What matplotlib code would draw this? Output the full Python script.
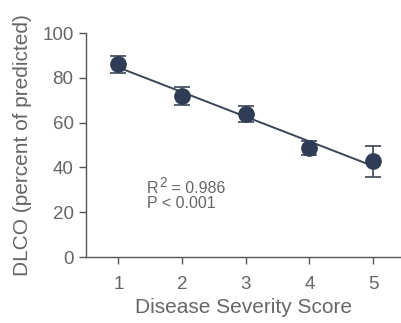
import numpy as np
import matplotlib
matplotlib.use("Agg")
import matplotlib.pyplot as plt
from matplotlib.transforms import offset_copy

plt.rcParams['font.family'] = ['Liberation Sans', 'DejaVu Sans']

severity = [1, 2, 3, 4, 5]
dlco = [86.1, 71.9, 63.7, 48.7, 42.7]
dlco_err = [3.8, 3.9, 3.6, 3.2, 6.9]
xticks = [1, 2, 3, 4, 5]
yticks = [0, 20, 40, 60, 80, 100]

text_c = '#666666'
axis_c = '#555555'
mark_c = '#2e3d55'

fig = plt.figure(figsize=(4.01, 3.23), dpi=100)
ax = fig.add_axes([86/401, 66/323, 315/401, 224/323])

slope, intercept = np.polyfit(severity, dlco, 1)
xs = np.array([severity[0], severity[-1]])
ax.plot(xs, slope*xs + intercept, color='#3a4558', lw=1.4, zorder=2)
ax.errorbar(severity, dlco, yerr=dlco_err, fmt='o', color=mark_c, ms=11,
            ecolor='#3a4558', elinewidth=1.2, capsize=6, capthick=1.2, zorder=3)

ax.set_xlim(0.49, 5.44)
ax.set_ylim(0, 100)
ax.set_xticks(xticks)
ax.set_yticks(yticks)
for s in ['top', 'right']:
    ax.spines[s].set_visible(False)
for s in ['left', 'bottom']:
    ax.spines[s].set_color(axis_c)
    ax.spines[s].set_linewidth(1.0)
ax.tick_params(axis='both', colors=axis_c, labelcolor=text_c, labelsize=13.5,
               length=5, width=1.0, direction='out')
ax.tick_params(axis='x', pad=9)
ax.tick_params(axis='y', pad=4)
ax.set_xlabel('Disease Severity Score', fontsize=15, color=text_c, labelpad=3)
ax.set_ylabel('DLCO (percent of predicted)', fontsize=15, color=text_c, labelpad=7)

# R^2 annotation, built from pieces so the superscript stays large
fs = 11.5
tx, ty = 1.45, 30.8
t_r = ax.text(tx, ty, 'R', fontsize=fs, color=text_c, va='center')
fig.canvas.draw()
r_ext = t_r.get_window_extent()
rw = r_ext.width * 72 / fig.dpi
t_2 = ax.text(tx, ty, '2', fontsize=fs*0.85, color=text_c, va='center',
              transform=offset_copy(ax.transData, fig=fig, x=rw + 0.3, y=3.4, units='points'))
fig.canvas.draw()
w2 = t_2.get_window_extent().width * 72 / fig.dpi
ax.text(tx, ty, ' = 0.986', fontsize=fs, color=text_c, va='center',
        transform=offset_copy(ax.transData, fig=fig, x=rw + 0.3 + w2, y=0, units='points'))
ax.text(tx, 24.1, 'P < 0.001', fontsize=fs, color=text_c, va='center')

fig.savefig('out.png', dpi=100)
